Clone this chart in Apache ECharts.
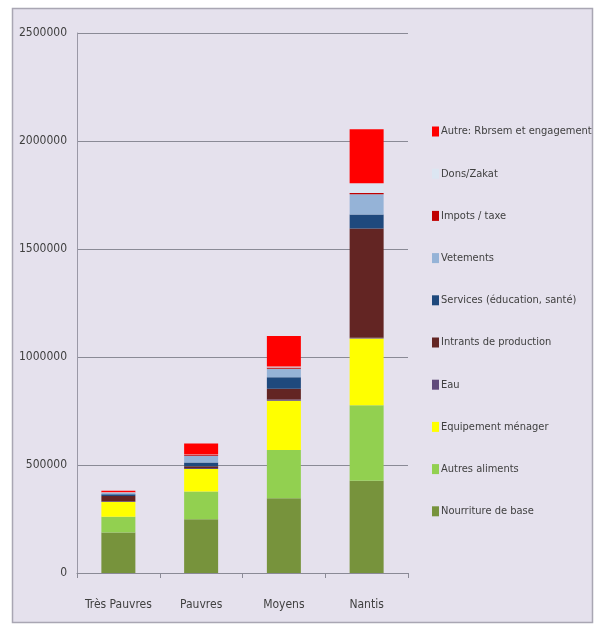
<!DOCTYPE html>
<html><head><meta charset="utf-8">
<script src="https://cdn.jsdelivr.net/npm/echarts@6/dist/echarts.min.js"></script>
<style>html,body{margin:0;padding:0;background:#fff;}#c{width:598px;height:626px;}</style>
</head><body><div id="c"></div>
<script>
const categories = ['Très Pauvres', 'Pauvres', 'Moyens', 'Nantis'];
const seriesNames = ['Nourriture de base', 'Autres aliments', 'Equipement ménager', 'Eau', 'Intrants de production', 'Services (éducation, santé)', 'Vetements', 'Impots / taxe', 'Dons/Zakat', 'Autre: Rbrsem et engagement'];
const nourriture = [188000, 249000, 346000, 427000];
const autresAliments = [72000, 128000, 224000, 350000];
const equipement = [69000, 104000, 228000, 309000];
const eau = [3000, 5000, 5000, 3000];
const intrants = [25000, 8000, 50000, 506000];
const services = [8000, 18000, 53000, 65000];
const vetements = [5000, 31000, 40000, 94000];
const impots = [3000, 3000, 5000, 5000];
const dons = [2000, 3000, 5000, 45000];
const autre = [6000, 50000, 141000, 250000];
const yTicks = [0, 500000, 1000000, 1500000, 2000000, 2500000];
const values = [nourriture, autresAliments, equipement, eau, intrants, services, vetements, impots, dons, autre];
const colors = ['#77933c', '#92d050', '#ffff00', '#604a7b', '#632523', '#1f497d', '#95b3d7', '#c00000', '#dce6f2', '#ff0000'];

const font = "'Liberation Sans Narrow', 'DejaVu Sans Condensed', 'Liberation Sans', sans-serif";
const chart = echarts.init(document.getElementById('c'));
chart.setOption({
  backgroundColor: '#ffffff',
  animation: false,
  graphic: [{
    type: 'rect', z: -10,
    shape: { x: 12.5, y: 8.5, width: 580, height: 614 },
    style: { fill: '#e5e1ed', stroke: '#a9a6b3', lineWidth: 1.5 }
  }],
  grid: { left: 77, right: 190, top: 33, bottom: 53 },
  legend: {
    orient: 'vertical', left: 427, top: 121,
    itemWidth: 7, itemHeight: 10, itemGap: 31.2,
    icon: 'rect',
    textStyle: { fontFamily: font, fontSize: 11, color: '#404040', padding: [0, 0, 0, -3] },
    data: seriesNames.slice().reverse()
  },
  xAxis: {
    type: 'category', data: categories,
    axisLine: { lineStyle: { color: '#8a8a96', width: 1 } },
    axisTick: { show: true, alignWithLabel: false, lineStyle: { color: '#8a8a96' } },
    axisLabel: { fontFamily: font, fontSize: 12, color: '#404040', margin: 26, interval: 0 }
  },
  yAxis: {
    type: 'value', min: 0, max: 2500000, interval: 500000,
    axisLine: { show: true, lineStyle: { color: '#9a98a6' } },
    axisTick: { show: false },
    splitLine: { lineStyle: { color: '#8a8a96', width: 1 } },
    axisLabel: { fontFamily: font, fontSize: 12, color: '#404040', margin: 10,
      formatter: v => yTicks.includes(v) ? String(v) : '' }
  },
  series: seriesNames.map((n, i) => ({
    name: n, type: 'bar', stack: 'total', barWidth: 34,
    data: values[i], itemStyle: { color: colors[i] }
  }))
});
</script></body></html>
